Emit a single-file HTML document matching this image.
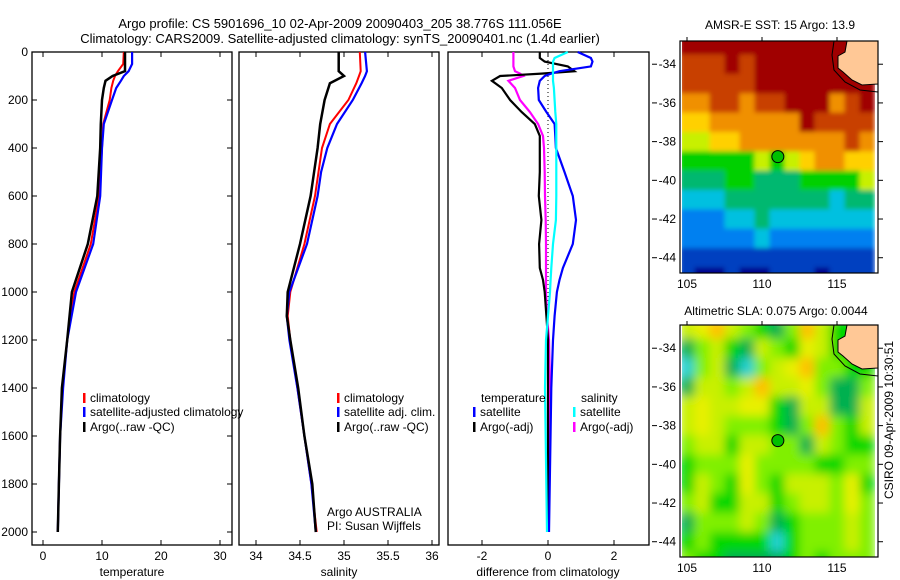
<!DOCTYPE html>
<html><head><meta charset="utf-8">
<style>
body{margin:0;background:#fff;}
svg{display:block;font-family:"Liberation Sans",sans-serif;}
text{font-size:12px;fill:#000;}
</style></head>
<body>
<svg id="fig" width="900" height="580" viewBox="0 0 900 580" xmlns="http://www.w3.org/2000/svg">
<defs>
<filter id="blurS" x="0" y="0" width="1" height="1"><feGaussianBlur stdDeviation="2.5" edgeMode="duplicate"/></filter>
<filter id="blurL" x="0" y="0" width="1" height="1"><feGaussianBlur stdDeviation="5" edgeMode="duplicate"/></filter>
</defs>
<text x="340" y="28" text-anchor="middle" style="font-size:13px">Argo profile: CS 5901696_10 02-Apr-2009 20090403_205 38.776S 111.056E</text>
<text x="340" y="43" text-anchor="middle" style="font-size:13px">Climatology: CARS2009. Satellite-adjusted climatology: synTS_20090401.nc (1.4d earlier)</text>
<text x="780" y="29" text-anchor="middle">AMSR-E SST: 15 Argo: 13.9</text>
<text x="776" y="315" text-anchor="middle">Altimetric SLA: 0.075 Argo: 0.0044</text>
<text transform="translate(893,420) rotate(-90)" text-anchor="middle">CSIRO 09-Apr-2009 10:30:51</text>
<g id="plots"></g>
</svg>
<script>
// ---- profile data ----
const tDepth=[0,50,80,100,120,150,200,300,400,600,800,1000,1200,1400,1600,1800,2000];
const tArgo=[13.9,13.9,13.9,11.8,10.6,10.3,10.0,9.8,9.7,9.2,7.6,4.9,4.1,3.2,2.9,2.7,2.5];
const tClim=[13.7,13.6,12.7,12.2,11.9,11.6,11.3,10.2,10.0,9.5,8.1,5.3,4.1,3.3,2.9,2.7,2.5];
const tSat=[15.1,15.1,14.5,13.7,13.2,12.4,11.7,10.3,10.0,9.7,8.5,5.6,4.1,3.4,2.9,2.7,2.5];
const sDepth=[0,80,100,130,200,300,400,500,600,800,1000,1100,1200,1400,1600,1800,2000];
const sArgo=[34.94,34.94,35.0,34.84,34.78,34.73,34.70,34.66,34.62,34.5,34.36,34.35,34.39,34.48,34.55,34.64,34.68];
const sClim=[35.18,35.19,35.17,35.14,35.05,34.84,34.75,34.71,34.67,34.55,34.39,34.36,34.39,34.47,34.55,34.63,34.69];
const sSat=[35.24,35.26,35.24,35.2,35.1,34.92,34.81,34.74,34.70,34.58,34.38,34.35,34.38,34.47,34.55,34.63,34.68];
const dDepth=[0,25,40,60,80,90,100,120,150,200,250,300,350,400,500,600,700,800,900,950,1000,1100,1200,1400,2000];
const dTArgo=[-0.25,-0.25,-0.1,0.6,0.8,-0.2,-1.45,-1.7,-1.4,-1.15,-0.8,-0.4,-0.25,-0.25,-0.25,-0.28,-0.2,-0.27,-0.25,-0.15,-0.1,-0.05,0,0,0];
const dTSat=[0.9,1.3,1.35,1.3,0.35,0.1,-0.1,-0.25,-0.3,-0.28,-0.05,0.2,0.22,0.24,0.5,0.75,0.85,0.75,0.45,0.35,0.27,0.2,0.15,0.1,0.03];
const dSArgo=[-1.05,-1.05,-1.05,-1.05,-1.0,-0.85,-0.75,-1.2,-1.0,-0.85,-0.55,-0.3,-0.15,-0.12,-0.1,-0.09,-0.07,-0.06,-0.06,-0.06,-0.06,-0.03,0.03,0.06,0];
const dSSat=[0.6,0.2,0.15,0.15,0.15,0.15,0.15,0.15,0.18,0.2,0.22,0.25,0.25,0.25,0.25,0.25,0.24,0.15,0.1,0.08,0.06,0,-0.06,-0.09,-0.03];
const depthTicks=[0,200,400,600,800,1000,1200,1400,1600,1800,2000];
const tTicks=[0,10,20,30];
const sTicks=[34,34.5,35,35.5,36];
const sTickLabels=['34','34.5','35','35.5','36'];
const dTicks=[-2,0,2];
// ---- map data (1 degree cells, lat -33..-45 rows, lon 105..117 cols) ----
const mapLons=[105,106,107,108,109,110,111,112,113,114,115,116,117];
const mapLats=[-33,-34,-35,-36,-37,-38,-39,-40,-41,-42,-43,-44,-45];
const sstGrid=[
[10,10,10,10,10,10,10,10,10,10,10,10,10],
[9,9,9,10,9,10,10,10,10,10,10,10,10],
[9,9,9,9,9,10,10,10,10,10,10,10,10],
[8,8,9,9,8,9,9,10,10,10,8,9,10],
[7,7,8,8,8,8,8,8,10,9,9,9,9],
[6,6,7,7,8,8,8,8,8,8,8,9,8],
[5,5,5,5,5,6,5,6,7,8,8,7,7],
[4,4,4,5,5,4,4,4,5,5,5,5,6],
[3,3,3,4,4,4,4,4,4,4,3,4,4],
[2,2,2,3,3,4,3,3,3,3,3,3,3],
[2,2,2,2,2,3,2,2,2,2,2,2,2],
[1,1,1,1,1,1,1,1,1,1,1,1,1],
[1,0,0,1,0,0,1,1,1,0,1,1,1]];
const slaGrid=[
[5,6,7,5,4,3,2,4,7,5,3,3,3],
[2,4,5,3,2,5,4,3,6,5,3,3,3],
[1,4,5,2,1,4,5,6,7,4,4,3,3],
[2,5,5,4,5,7,5,5,6,4,2,2,4],
[5,6,5,5,6,6,3,2,5,5,2,2,5],
[5,6,5,4,4,4,3,2,4,7,4,3,5],
[4,5,5,3,5,5,4,4,2,5,4,3,3],
[3,4,4,4,6,4,4,4,4,3,3,4,4],
[3,5,4,3,6,4,3,5,5,5,4,6,3],
[4,5,3,3,5,5,3,4,5,5,4,6,4],
[2,4,4,4,5,4,2,3,4,4,4,5,4],
[3,4,3,3,3,3,1,3,4,4,4,5,4],
[4,3,3,2,2,2,2,3,4,3,4,4,4]];
const argoLon=111.056, argoLat=-38.776;
const latTicks=[-34,-36,-38,-40,-42,-44];
const lonTicks=[105,110,115];

const NS='http://www.w3.org/2000/svg';
const G=document.getElementById('plots');
function mk(tag,attrs,parent){const e=document.createElementNS(NS,tag);for(const k in attrs)e.setAttribute(k,attrs[k]);(parent||G).appendChild(e);return e;}
function txt(x,y,s,anchor,parent){const e=mk('text',{x:x,y:y,'text-anchor':anchor||'start'},parent);e.textContent=s;return e;}

const yD=d=>52+d*0.24;
const xT=t=>43+5.9*t;
const xS=s=>256+88*(s-34);
const xDf=v=>548+33*v;
const TOP=52,BOT=545;

function frame(x0,x1,name){
  const r=mk('rect',{x:x0,y:TOP,width:x1-x0,height:BOT-TOP,fill:'none',stroke:'#000','stroke-width':1.3});
  
  
}
function xticks(vals,labels,fx,axisName){
  vals.forEach((v,i)=>{
    const x=fx(v);
    mk('line',{x1:x,x2:x,y1:TOP,y2:TOP+5,stroke:'#000'});
    mk('line',{x1:x,x2:x,y1:BOT,y2:BOT-5,stroke:'#000'});
    const t=txt(x,560,labels[i],'middle');
    
    
  });
}
function line(xs,ds,fx,color,w,name){
  const pts=xs.map((v,i)=>fx(v).toFixed(1)+','+yD(ds[i]).toFixed(1)).join(' ');
  const p=mk('polyline',{points:pts,fill:'none',stroke:color,'stroke-width':w,'stroke-linejoin':'miter'});
  
  
}
function legend(x,y,color,label,name){
  mk('rect',{x:x,y:y-9,width:2.5,height:10,fill:color});
  const t=txt(x+7,y,label);
  
  
}

// Panel 1 temperature
frame(32,232,'temperature-panel');
depthTicks.forEach(d=>{
  const y=yD(d);
  mk('line',{x1:32,x2:37,y1:y,y2:y,stroke:'#000'});
  mk('line',{x1:232,x2:227,y1:y,y2:y,stroke:'#000'});
  const t=txt(28,y+4,String(d),'end');
  
  
});
xticks(tTicks,tTicks.map(String),xT,'temperature');
line(tClim,tDepth,xT,'#f00',2,'temperature-climatology-line');
line(tSat,tDepth,xT,'#00f',2.2,'temperature-satellite-line');
line(tArgo,tDepth,xT,'#000',2.5,'temperature-argo-line');
legend(83,402,'#f00','climatology','legend-climatology');
legend(83,416,'#00f','satellite-adjusted climatology','legend-satellite-adjusted');
legend(83,431,'#000','Argo(..raw -QC)','legend-argo');
(function(){const t=txt(132,576,'temperature','middle');})();

// Panel 2 salinity
frame(239,439,'salinity-panel');
xticks(sTicks,sTickLabels,xS,'salinity');
line(sClim,sDepth,xS,'#f00',2,'salinity-climatology-line');
line(sSat,sDepth,xS,'#00f',2.2,'salinity-satellite-line');
line(sArgo,sDepth,xS,'#000',2.5,'salinity-argo-line');
legend(337,402,'#f00','climatology','legend-sal-climatology');
legend(337,416,'#00f','satellite adj. clim.','legend-sal-satellite');
legend(337,431,'#000','Argo(..raw -QC)','legend-sal-argo');
(function(){let t=txt(327,516,'Argo AUSTRALIA');
t=txt(327,530,'PI: Susan Wijffels');
t=txt(339,576,'salinity','middle');})();

// Panel 3 difference
frame(448,649,'difference-panel');
xticks(dTicks,['-2','0','2'],xDf,'difference');
mk('line',{x1:xDf(0),x2:xDf(0),y1:TOP,y2:yD(2000),stroke:'#000','stroke-dasharray':'1,3'});
line(dSArgo,dDepth,xDf,'#f0f',2.2,'salinity-argo-diff-line');
line(dTArgo,dDepth,xDf,'#000',2.2,'temperature-argo-diff-line');
line(dTSat,dDepth,xDf,'#00f',2.2,'temperature-satellite-diff-line');
line(dSSat,dDepth,xDf,'#0ff',2.2,'salinity-satellite-diff-line');
(function(){let t=txt(481,402,'temperature');
t=txt(581,402,'salinity');
t=txt(548,576,'difference from climatology','middle');})();
legend(473,416,'#00f','satellite','legend-temp-satellite');
legend(473,431,'#000','Argo(-adj)','legend-temp-argo');
legend(573,416,'#0ff','satellite','legend-sal-satellite-diff');
legend(573,431,'#f0f','Argo(-adj)','legend-sal-argo-diff');

// Maps
const sstColors=['#00008f','#0040c0','#0080f0','#00c0e0','#00b870','#00d000','#c8f000','#ffd000','#f09000','#c84000','#a00000'];
const slaColors=['#00a0a0','#20d0d0','#00b050','#00d800','#80f000','#c8f000','#e8f000','#ffc000','#ff9000'];
const mapX=lon=>687+(lon-105)*15;
const LAT0=-32.8, PXLAT=19.35;
function drawMap(top,grid,colors,name,filt){
  const mapY=lat=>top+(LAT0-lat)*PXLAT;
  const g=mk('g',{});
  
  
  const cp=mk('clipPath',{id:name+'-clip'},g);
  mk('rect',{x:682,y:top,width:196,height:232},cp);
  const cg=mk('g',{'clip-path':'url(#'+name+'-clip)'},g);
  const fg=mk('g',{filter:'url(#'+filt+')'},cg);
  grid.forEach((row,r)=>row.forEach((v,c)=>{
    mk('rect',{x:mapX(mapLons[c]-0.5),y:mapY(mapLats[r]+0.5),width:15.5,height:PXLAT+0.5,fill:colors[v]},fg);
  }));
  // coast contour and land
  const o=top-41;
  mk('polyline',{points:`834,${41+o} 832,${55+o} 834,${70+o} 845,${82+o} 860,${90+o} 878,${92+o}`,fill:'none',stroke:'#000','stroke-width':1},cg);
  mk('polygon',{points:`847,${41+o} 845,${52+o} 838,${56+o} 838,${68+o} 843,${72+o} 852,${80+o} 862,${85+o} 878,${84+o} 878,${41+o}`,fill:'#ffc896',stroke:'#000','stroke-width':1},cg);
  mk('rect',{x:680,y:top,width:198,height:232,fill:'none',stroke:'#000','stroke-width':1.2},g);
  const m=mk('circle',{cx:mapX(argoLon),cy:mapY(argoLat),r:6,fill:'#00c000',stroke:'#000','stroke-width':1},g);
  
  
  latTicks.forEach(l=>{
    const y=mapY(l);
    mk('line',{x1:652,x2:657,y1:y,y2:y,stroke:'#000'});
    mk('line',{x1:878,x2:883,y1:y,y2:y,stroke:'#000'});
    const t=txt(676,y+4,String(l),'end');
    
    
  });
  lonTicks.forEach(l=>{
    const x=mapX(l);
    mk('line',{x1:x,x2:x,y1:top-4,y2:top,stroke:'#000'});
    const t=txt(x,top+247,String(l),'middle');
    
    
  });
}
drawMap(41,sstGrid,sstColors,'sst-map','blurS');
drawMap(325,slaGrid,slaColors,'sla-map','blurL');
</script>
</body></html>
